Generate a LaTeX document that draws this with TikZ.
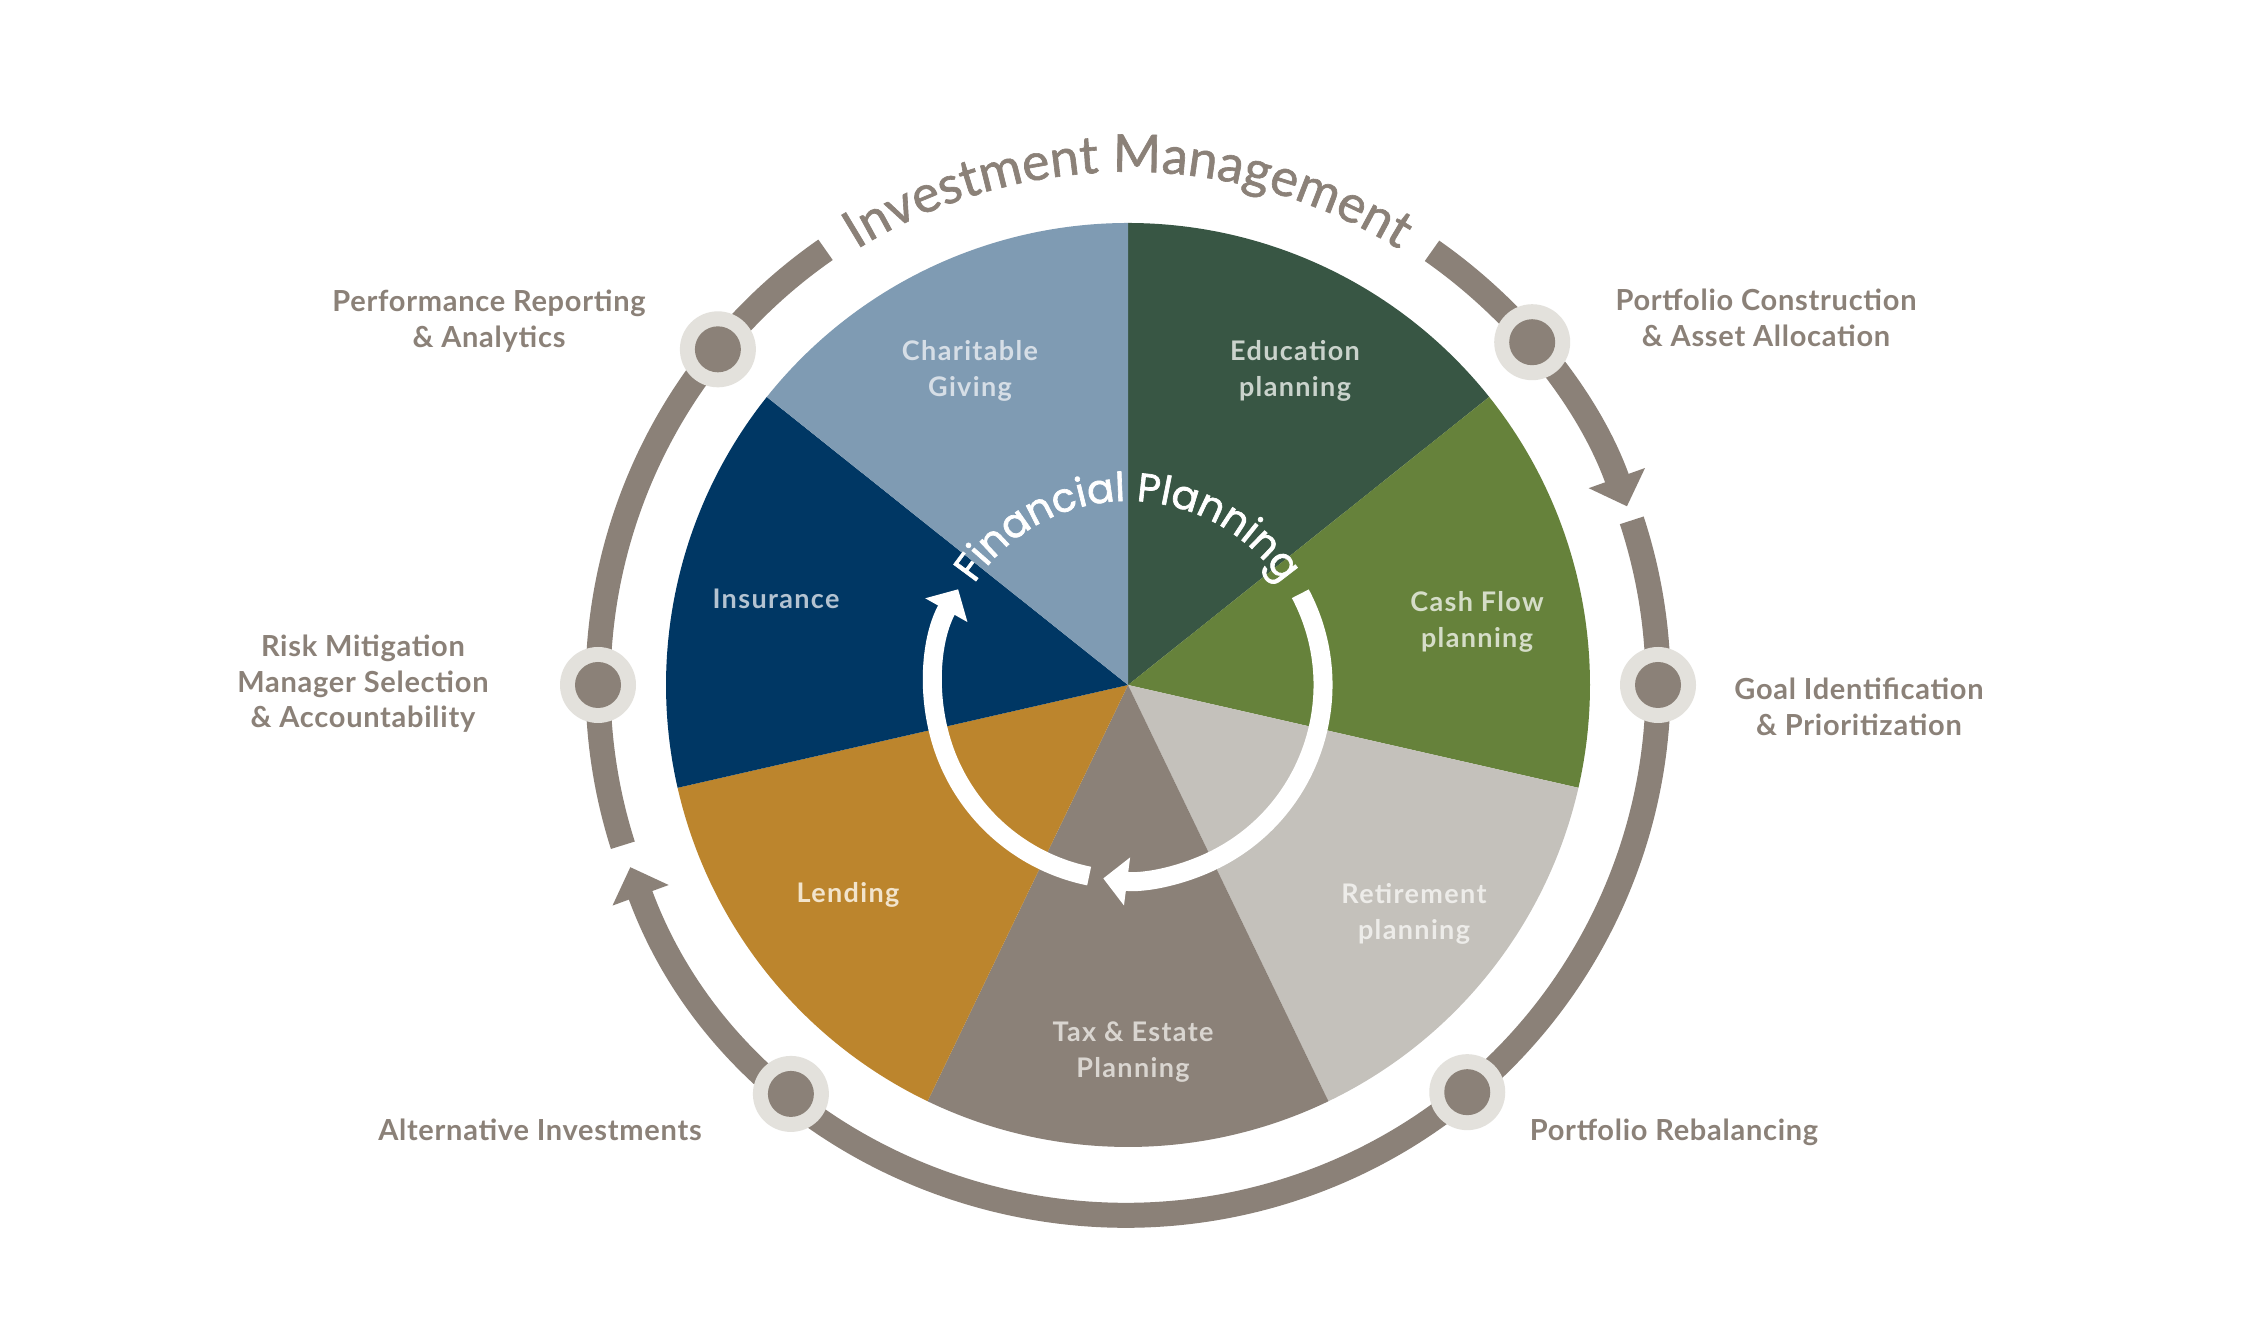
\documentclass[tikz,border=0pt]{standalone}
\usepackage{fontspec}
\setmainfont{Lato}
\newfontfamily\outerfont{Lato}[LetterSpace=2.5]
\newfontfamily\innerfont{Lato}[LetterSpace=5]
\newfontfamily\fpfont{Poppins}[FakeBold=1.6]
\newfontfamily\imfont{Lato}[FakeBold=1.2]
\usetikzlibrary{arrows.meta,decorations.text}
\definecolor{ringc}{HTML}{8B8178}
\definecolor{dotc}{HTML}{E3E1DC}
\definecolor{educ}{HTML}{385644}
\definecolor{cashc}{HTML}{66823B}
\definecolor{retc}{HTML}{C4C1BB}
\definecolor{taxc}{HTML}{8B8178}
\definecolor{lendc}{HTML}{BC852D}
\definecolor{insc}{HTML}{003764}
\definecolor{givec}{HTML}{7F9BB3}
\definecolor{givet}{HTML}{D6DEE6}
\definecolor{edut}{HTML}{CAD3CC}
\definecolor{inst}{HTML}{B4C3D1}
\definecolor{casht}{HTML}{D5DDC8}
\definecolor{lendt}{HTML}{F2E4CC}
\definecolor{rett}{HTML}{EDECE9}
\definecolor{taxt}{HTML}{D9D5D0}
\newcommand\IMfont{\imfont\fontsize{26}{30}\selectfont}
\newcommand\FPfont{\fpfont\fontsize{20}{24}\selectfont}
\begin{document}
\begin{tikzpicture}[x=0.5pt,y=0.5pt,
  ringline/.style={draw=ringc,line width=12.5pt},
  ringtip/.style={-{Triangle[width=29pt,length=15pt]}},
  whiteline/.style={draw=white,line width=9.5pt,-{Triangle[width=23.5pt,length=12pt]}},
  dotouter/.style={circle,fill=dotc,minimum size=38pt,inner sep=0pt},
  dotinner/.style={circle,fill=ringc,minimum size=23pt,inner sep=0pt},
  outerlabel/.style={font=\outerfont\bfseries\fontsize{14.5}{17.75}\selectfont,text=ringc,align=center,inner sep=0pt},
  innerlabel/.style={font=\innerfont\bfseries\fontsize{13.5}{18}\selectfont,align=center,inner sep=0pt}]
\fill[white] (0,0) rectangle (2247,1321);
\useasboundingbox (0,0) rectangle (2247,1321);
\coordinate (C) at (1128,636);
% sectors
\fill[educ]  (C) -- ++(90:462) arc[start angle=90,end angle=38.571,radius=462] -- cycle;
\fill[cashc] (C) -- ++(38.571:462) arc[start angle=38.571,end angle=-12.857,radius=462] -- cycle;
\fill[retc]  (C) -- ++(-12.857:462) arc[start angle=-12.857,end angle=-64.286,radius=462] -- cycle;
\fill[taxc]  (C) -- ++(-64.286:462) arc[start angle=-64.286,end angle=-115.714,radius=462] -- cycle;
\fill[lendc] (C) -- ++(-115.714:462) arc[start angle=-115.714,end angle=-167.143,radius=462] -- cycle;
\fill[insc]  (C) -- ++(-167.143:462) arc[start angle=-167.143,end angle=-218.571,radius=462] -- cycle;
\fill[givec] (C) -- ++(141.429:462) arc[start angle=141.429,end angle=90,radius=462] -- cycle;
% outer ring
\draw[ringline,ringtip] ([shift={(55:530)}]C) arc[start angle=55,end angle=19.7,radius=530];
\draw[ringline,ringtip] ([shift={(18.1:530)}]C) arc[start angle=18.1,end angle=-159.9,radius=530];
\draw[ringline] ([shift={(197.6:530)}]C) arc[start angle=197.6,end angle=124.8,radius=530];
% inner white arrows
\draw[whiteline] ([shift={(27.9:195)}]C) arc[start angle=27.9,end angle=-97.3,radius=195];
\draw[whiteline] ([shift={(258.5:195)}]C) arc[start angle=258.5,end angle=150.6,radius=195];
% curved titles
\path[decorate,decoration={text along path,text={|\IMfont|Investment Management},text align=center,text color=ringc}]
  ([shift={(150:513)}]C) arc[start angle=150,end angle=30,radius=513];
\path[decorate,decoration={text along path,text={|\FPfont|Financial Planning},text align=center,text color=white}]
  ([shift={(170:184)}]C) arc[start angle=170,end angle=10,radius=184];
% dots
\foreach \a/\n in {140.7/perf,40.3/port,180/risk,0/goal,230.5/alt,-50.2/reb}{
  \node[dotouter] (\n o) at ([shift={(\a:530)}]C) {};
  \node[dotinner] (\n i) at (\n o) {};
}
% sector labels
\node[innerlabel,text=givet] (lgive) at (970,950) {Charitable\\Giving};
\node[innerlabel,text=edut] (ledu) at (1295,950) {Education\\planning};
\node[innerlabel,text=inst,anchor=base] (lins) at (776,712) {Insurance};
\node[innerlabel,text=casht] (lcash) at (1477,699) {Cash Flow\\planning};
\node[innerlabel,text=lendt,anchor=base] (llend) at (848,418) {Lending};
\node[innerlabel,text=rett] (lret) at (1414,407) {Retirement\\planning};
\node[innerlabel,text=taxt] (ltax) at (1133,269) {Tax \& Estate\\Planning};
% outer labels
\node[outerlabel] (tperf) at (489,1000) {Performance Reporting\\\& Analytics};
\node[outerlabel] (tport) at (1766,1003) {Portfolio Construction\\\& Asset Allocation};
\node[outerlabel] (trisk) at (363,637) {Risk Mitigation\\Manager Selection\\\& Accountability};
\node[outerlabel] (tgoal) at (1859,614) {Goal Identification\\\& Prioritization};
\node[outerlabel,anchor=base] (talt) at (540,180) {Alternative Investments};
\node[outerlabel,anchor=base] (treb) at (1674,180) {Portfolio Rebalancing};
\end{tikzpicture}
\end{document}
